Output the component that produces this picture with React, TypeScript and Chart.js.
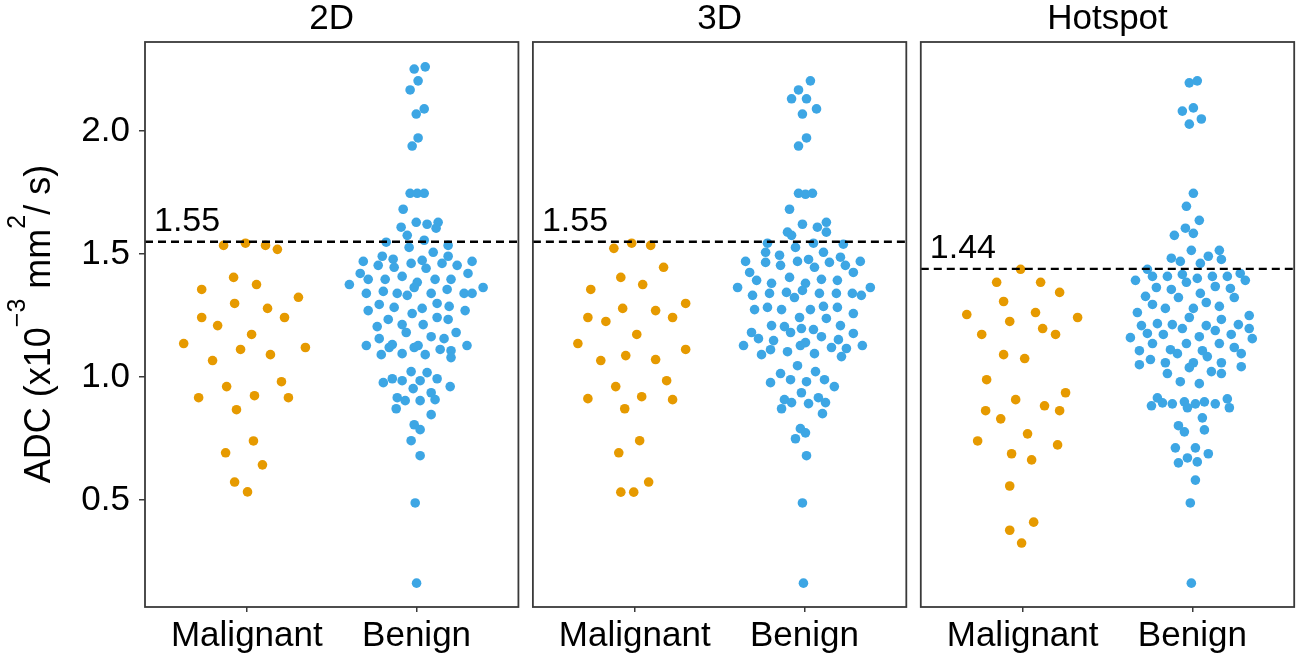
import { useEffect, useRef } from 'react';
import { Chart, registerables } from 'chart.js';

Chart.register(...registerables);

type Pt = [number, number]; // [ADC value, beeswarm offset in category units]

const panelTitles = ['2D', '3D', 'Hotspot'];
const categories = ['Malignant', 'Benign'];
const cutoffs = [1.55, 1.55, 1.44];
const yTicks = [0.5, 1.0, 1.5, 2.0];

const mal2D: Pt[] = [
  [1.535, -0.137], [1.544, -0.008], [1.535, 0.11], [1.519, 0.18], [1.405, -0.078], [1.376, 0.057],
  [1.356, -0.266], [1.324, 0.304], [1.299, -0.072], [1.279, 0.122], [1.242, -0.266], [1.242, 0.222],
  [1.209, -0.172], [1.173, 0.028], [1.136, -0.372], [1.112, -0.037], [1.12, 0.345], [1.091, 0.139],
  [1.067, -0.202], [0.981, 0.204], [0.961, -0.119], [0.916, -0.284], [0.924, 0.045], [0.916, 0.245],
  [0.867, -0.061], [0.74, 0.039], [0.692, -0.125], [0.643, 0.092], [0.573, -0.072], [0.533, 0.004],
];

const ben2D: Pt[] = [
  [2.252, -0.014], [2.261, 0.051], [2.204, 0.009], [2.167, -0.038], [2.069, -0.002], [2.09, 0.045],
  [1.972, 0.009], [1.939, -0.026], [1.747, -0.038], [1.747, 0.004], [1.747, 0.045], [1.682, -0.079],
  [1.609, -0.091], [1.576, -0.055], [1.629, -0.002], [1.621, 0.062], [1.629, 0.127], [1.605, 0.115],
  [1.548, -0.179], [1.556, 0.045], [1.527, -0.044], [1.535, 0.186], [1.507, 0.098],
  [1.491, -0.202], [1.479, -0.138], [1.446, -0.132], [1.47, -0.314], [1.454, -0.226], [1.462, -0.032],
  [1.474, 0.033], [1.442, 0.056], [1.462, 0.15], [1.491, 0.186], [1.454, 0.239], [1.47, 0.327], [1.421, 0.303],
  [1.421, -0.332], [1.376, -0.396], [1.397, -0.285], [1.397, -0.185], [1.409, -0.085], [1.385, 0.004],
  [1.364, -0.014], [1.397, 0.109], [1.397, 0.203], [1.356, 0.18], [1.364, 0.392],
  [1.34, -0.296], [1.348, -0.196], [1.34, -0.114], [1.332, -0.055], [1.34, 0.086], [1.34, 0.28], [1.34, 0.327],
  [1.27, -0.285], [1.295, -0.22], [1.283, -0.132], [1.258, -0.026], [1.279, 0.033], [1.299, 0.121],
  [1.287, 0.192], [1.27, 0.286],
  [1.205, -0.232], [1.234, -0.167], [1.213, -0.085], [1.181, -0.061], [1.213, 0.039], [1.242, 0.121], [1.234, 0.186],
  [1.156, -0.22], [1.164, 0.086], [1.156, 0.162], [1.181, 0.233],
  [1.128, -0.296], [1.091, -0.208], [1.12, -0.161], [1.132, -0.143], [1.095, -0.085], [1.12, -0.014],
  [1.128, 0.009], [1.091, 0.051], [1.112, 0.139], [1.107, 0.203], [1.079, 0.203], [1.128, 0.297],
  [1.022, -0.032], [1.018, 0.062], [0.977, -0.196], [0.993, -0.143], [0.985, -0.085], [0.985, 0.021],
  [0.993, 0.121], [0.961, 0.198], [0.953, -0.02], [0.936, 0.086], [0.908, 0.109], [0.916, -0.114],
  [0.904, -0.067], [0.904, 0.021], [0.871, -0.12], [0.847, 0.086], [0.806, -0.014], [0.786, 0.021],
  [0.741, -0.032], [0.68, 0.021], [0.488, -0.008], [0.162, 0.0],
];

const mal3D: Pt[] = [
  [1.523, -0.123], [1.544, -0.018], [1.535, 0.094], [1.446, 0.17], [1.405, -0.082], [1.376, 0.047],
  [1.356, -0.259], [1.299, 0.3], [1.279, -0.071], [1.27, 0.123], [1.242, -0.276], [1.226, -0.17],
  [1.242, 0.223], [1.173, 0.012], [1.136, -0.335], [1.087, -0.053], [1.112, 0.3], [1.067, -0.2],
  [1.071, 0.123], [0.985, 0.188], [0.961, -0.112], [0.912, -0.276], [0.92, 0.041], [0.908, 0.223],
  [0.871, -0.059], [0.741, 0.029], [0.692, -0.094], [0.573, 0.082], [0.532, -0.082], [0.532, -0.006],
];

const ben3D: Pt[] = [
  [2.204, 0.035], [2.167, -0.035], [2.131, -0.076], [2.131, 0.012], [2.09, 0.071], [2.069, -0.012],
  [1.972, 0.012], [1.939, -0.035], [1.747, -0.035], [1.743, 0.006], [1.747, 0.047], [1.682, -0.088],
  [1.621, -0.012], [1.609, 0.076], [1.629, 0.129], [1.589, 0.129], [1.589, -0.1], [1.576, -0.076],
  [1.544, -0.218], [1.507, -0.229], [1.527, -0.053], [1.544, 0.053], [1.54, 0.229], [1.507, 0.112],
  [1.487, 0.212], [1.495, -0.147], [1.47, -0.347], [1.466, -0.229], [1.454, -0.141], [1.47, -0.041],
  [1.478, 0.024], [1.446, 0.059], [1.466, 0.147], [1.454, 0.241], [1.47, 0.329], [1.425, -0.323],
  [1.425, 0.288], [1.405, -0.088], [1.393, -0.282], [1.381, -0.194], [1.381, 0.006], [1.352, -0.012],
  [1.397, 0.1], [1.393, 0.194], [1.364, -0.394], [1.332, -0.306], [1.34, -0.206], [1.344, -0.106],
  [1.323, -0.059], [1.34, 0.088], [1.34, 0.188], [1.34, 0.282], [1.332, 0.335], [1.364, 0.388],
  [1.274, -0.294], [1.283, -0.218], [1.274, -0.135], [1.274, 0.035], [1.287, 0.112], [1.283, 0.194],
  [1.242, -0.029], [1.238, 0.129], [1.258, 0.288], [1.209, -0.194], [1.205, -0.118], [1.181, -0.082],
  [1.197, -0.018], [1.193, 0.053], [1.164, 0.1], [1.209, 0.212], [1.181, -0.312], [1.156, -0.271],
  [1.177, 0.288], [1.128, -0.359], [1.148, -0.182], [1.111, -0.2], [1.128, -0.024], [1.14, 0.006],
  [1.152, 0.2], [1.12, 0.159], [1.116, 0.247], [1.083, 0.218], [1.128, 0.341], [1.091, -0.253],
  [1.103, -0.1], [1.095, 0.059], [1.046, -0.041], [1.014, -0.141], [1.022, 0.065], [0.977, -0.2],
  [0.989, -0.082], [0.981, 0.012], [0.989, 0.118], [0.961, 0.176], [0.936, -0.018], [0.908, -0.118],
  [0.896, -0.076], [0.916, 0.082], [0.896, 0.124], [0.892, 0.024], [0.871, -0.135], [0.851, 0.106],
  [0.79, -0.024], [0.773, 0.006], [0.749, -0.053], [0.68, 0.012], [0.488, -0.012], [0.162, -0.006],
];

const malHot: Pt[] = [
  [1.438, -0.012], [1.385, -0.153], [1.385, 0.106], [1.344, 0.218], [1.307, -0.112], [1.254, -0.329],
  [1.262, 0.076], [1.242, 0.324], [1.226, -0.076], [1.197, 0.118], [1.173, -0.241], [1.173, 0.194],
  [1.091, -0.112], [1.075, 0.012], [0.989, -0.212], [0.936, 0.253], [0.908, -0.041], [0.883, 0.129],
  [0.863, -0.218], [0.863, 0.218], [0.83, -0.129], [0.769, 0.029], [0.74, -0.265], [0.724, 0.206],
  [0.688, -0.065], [0.663, 0.053], [0.557, -0.076], [0.41, 0.065], [0.377, -0.076], [0.325, -0.006],
];

const benHot: Pt[] = [
  [2.196, -0.018], [2.204, 0.029], [2.081, -0.059], [2.094, 0.006], [2.028, -0.018], [2.049, 0.053],
  [1.747, 0.006], [1.694, -0.035], [1.637, 0.041], [1.605, -0.041], [1.584, 0.006], [1.576, -0.106],
  [1.515, -0.006], [1.491, 0.094], [1.515, 0.159], [1.478, 0.171], [1.483, -0.124], [1.47, -0.071],
  [1.462, 0.047], [1.438, -0.265], [1.409, -0.235], [1.393, -0.335], [1.409, -0.147], [1.417, -0.059],
  [1.385, -0.035], [1.401, 0.029], [1.409, 0.118], [1.409, 0.206], [1.421, 0.282], [1.393, 0.312],
  [1.364, -0.212], [1.356, -0.124], [1.368, 0.135], [1.36, 0.224], [1.34, 0.047], [1.328, -0.276],
  [1.323, 0.247], [1.323, -0.082], [1.295, -0.235], [1.279, -0.159], [1.303, 0.082], [1.287, 0.159],
  [1.262, -0.324], [1.279, 0.006], [1.242, -0.018], [1.234, 0.171], [1.25, 0.335], [1.209, -0.3],
  [1.217, -0.206], [1.213, -0.118], [1.197, -0.059], [1.209, 0.082], [1.189, 0.135], [1.213, 0.271],
  [1.197, 0.335], [1.16, -0.365], [1.177, -0.265], [1.173, -0.171], [1.164, 0.041], [1.173, 0.229],
  [1.156, 0.353], [1.136, -0.235], [1.136, -0.035], [1.136, 0.159], [1.107, -0.312], [1.111, -0.129],
  [1.095, -0.088], [1.107, 0.059], [1.083, 0.088], [1.12, 0.247], [1.095, 0.288], [1.071, -0.247],
  [1.058, -0.159], [1.058, 0.006], [1.038, -0.018], [1.058, 0.171], [1.05, -0.312], [1.042, 0.288],
  [1.014, -0.147], [1.022, 0.112], [1.014, 0.171], [0.981, -0.071], [0.973, 0.041], [0.915, -0.206],
  [0.895, -0.176], [0.883, -0.241], [0.891, -0.118], [0.899, -0.047], [0.875, -0.029], [0.891, 0.018],
  [0.899, 0.071], [0.891, 0.135], [0.911, 0.206], [0.875, 0.218], [0.834, 0.059], [0.802, -0.082],
  [0.777, -0.047], [0.785, 0.071], [0.712, -0.1], [0.712, 0.018], [0.688, 0.094], [0.671, -0.029],
  [0.651, -0.082], [0.655, 0.029], [0.581, 0.018], [0.488, -0.012], [0.162, -0.006],
];

const malignantSets = [mal2D, mal3D, malHot];
const benignSets = [ben2D, ben3D, benHot];

const ORANGE = '#E69A00';
const BLUE = '#3DA6E4';
const FONT = "'Liberation Sans', Arial, sans-serif";

const PANEL_SPAN = 2.2;
const GAP = 0.0853;
const STRIDE = PANEL_SPAN + GAP;
const X_MIN = 0.4;
const X_MAX = 0.4 + 2 * STRIDE + PANEL_SPAN;
const Y_MIN = 0.065;
const Y_MAX = 2.362;

export default function App() {
  const ref = useRef<HTMLCanvasElement | null>(null);

  useEffect(() => {
    document.body.style.margin = '0';
    const canvas = ref.current;
    if (!canvas) return;

    const datasets: any[] = [];
    for (let k = 0; k < 3; k++) {
      const base = k * STRIDE;
      datasets.push({
        type: 'line',
        data: [
          { x: X_MIN + base, y: cutoffs[k] },
          { x: X_MIN + base + PANEL_SPAN, y: cutoffs[k] },
        ],
        borderColor: '#000',
        borderWidth: 2.3,
        borderDash: [8, 5],
        pointRadius: 0,
        showLine: true,
        order: 0,
      });
      datasets.push({
        data: malignantSets[k].map(([v, o]) => ({ x: 1 + base + o, y: v })),
        backgroundColor: ORANGE,
        borderWidth: 0,
        pointRadius: 4.8,
        order: 1,
      });
      datasets.push({
        data: benignSets[k].map(([v, o]) => ({ x: 2 + base + o, y: v })),
        backgroundColor: BLUE,
        borderWidth: 0,
        pointRadius: 4.8,
        order: 1,
      });
    }

    const panelPlugin = {
      id: 'panels',
      afterDraw(chart: any) {
        const { ctx, chartArea, scales } = chart;
        const xs = scales.x;
        const ys = scales.y;
        ctx.save();
        for (let k = 0; k < 3; k++) {
          const l = xs.getPixelForValue(X_MIN + k * STRIDE);
          const r = xs.getPixelForValue(X_MIN + k * STRIDE + PANEL_SPAN);
          ctx.strokeStyle = '#3a3a3a';
          ctx.lineWidth = 1.8;
          ctx.strokeRect(l, chartArea.top, r - l, chartArea.bottom - chartArea.top);
          ctx.fillStyle = '#000';
          ctx.font = `35px ${FONT}`;
          ctx.textAlign = 'center';
          ctx.textBaseline = 'alphabetic';
          ctx.fillText(panelTitles[k], (l + r) / 2, 29);
          ctx.textAlign = 'left';
          ctx.font = `34px ${FONT}`;
          ctx.fillText(cutoffs[k].toFixed(2), l + 9, ys.getPixelForValue(cutoffs[k]) - 11);
        }
        // y-axis title with superscripts
        const pieces = [
          { t: 'ADC (x10', sup: false },
          { t: '\u22123', sup: true },
          { t: ' mm', sup: false },
          { t: '2', sup: true },
          { t: '/ s)', sup: false },
        ];
        const mainF = `36px ${FONT}`;
        const supF = `25px ${FONT}`;
        let total = 0;
        const widths = pieces.map((p) => {
          ctx.font = p.sup ? supF : mainF;
          const w = ctx.measureText(p.t).width;
          total += w;
          return w;
        });
        ctx.translate(50, 324);
        ctx.rotate(-Math.PI / 2);
        ctx.textAlign = 'left';
        ctx.textBaseline = 'alphabetic';
        ctx.fillStyle = '#000';
        let x = -total / 2;
        pieces.forEach((p, i) => {
          ctx.font = p.sup ? supF : mainF;
          ctx.fillText(p.t, x, p.sup ? -25 : 0);
          x += widths[i];
        });
        ctx.restore();
      },
    };

    const tickPositions = [0, 1, 2].flatMap((k) => [1 + k * STRIDE, 2 + k * STRIDE]);

    const chart = new Chart(canvas, {
      type: 'scatter',
      data: { datasets },
      options: {
        animation: false,
        responsive: true,
        maintainAspectRatio: false,
        events: [],
        layout: { padding: { top: 42, right: 3, left: 0, bottom: 0 } },
        plugins: { legend: { display: false }, tooltip: { enabled: false } },
        scales: {
          x: {
            type: 'linear',
            min: X_MIN,
            max: X_MAX,
            afterBuildTicks: (scale: any) => {
              scale.ticks = tickPositions.map((v) => ({ value: v }));
            },
            afterFit: (scale: any) => {
              scale.height = 51;
            },
            border: { display: false },
            grid: {
              display: true,
              drawOnChartArea: false,
              drawTicks: true,
              tickLength: 5,
              color: '#3a3a3a',
              lineWidth: 1.5,
            },
            ticks: {
              autoSkip: false,
              maxRotation: 0,
              minRotation: 0,
              padding: 3,
              color: '#000',
              font: { family: FONT, size: 35 },
              callback: (_v: any, i: number) => categories[i % 2],
            },
          },
          y: {
            type: 'linear',
            min: Y_MIN,
            max: Y_MAX,
            afterBuildTicks: (scale: any) => {
              scale.ticks = yTicks.map((v) => ({ value: v }));
            },
            afterFit: (scale: any) => {
              scale.width = 145;
            },
            border: { display: false },
            grid: {
              display: true,
              drawOnChartArea: false,
              drawTicks: true,
              tickLength: 6,
              color: '#3a3a3a',
              lineWidth: 1.5,
            },
            ticks: {
              padding: 9,
              color: '#000',
              font: { family: FONT, size: 35 },
              callback: (v: any) => Number(v).toFixed(1),
            },
          },
        },
      },
      plugins: [panelPlugin],
    });

    return () => chart.destroy();
  }, []);

  return (
    <div style={{ position: 'fixed', left: 0, top: 0, width: 1299, height: 658, background: '#fff' }}>
      <canvas ref={ref} />
    </div>
  );
}
